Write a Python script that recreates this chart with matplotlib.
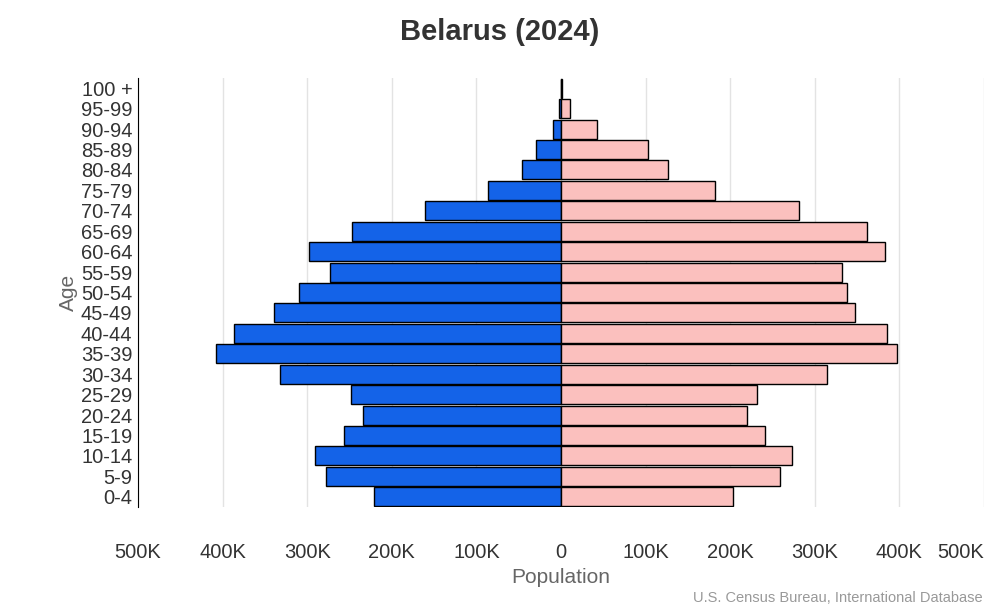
import matplotlib
matplotlib.use("Agg")
import matplotlib.pyplot as plt
from matplotlib.ticker import FuncFormatter

plt.rcParams["font.family"] = ["Liberation Sans", "DejaVu Sans"]

ages = ["0-4", "5-9", "10-14", "15-19", "20-24", "25-29", "30-34", "35-39", "40-44",
        "45-49", "50-54", "55-59", "60-64", "65-69", "70-74", "75-79", "80-84",
        "85-89", "90-94", "95-99", "100 +"]
male = [221, 278, 291, 256, 234, 248, 332, 408, 386, 339, 310, 273, 298, 247,
        161, 86, 46, 30, 9, 2, 0.5]
female = [203, 259, 273, 241, 220, 232, 314, 397, 385, 348, 338, 332, 383, 362,
          281, 182, 126, 103, 43, 11, 1.5]
xticks = [-500, -400, -300, -200, -100, 0, 100, 200, 300, 400, 500]

fig = plt.figure(figsize=(10, 6.12), dpi=100)
ax = fig.add_axes([0.138, 1 - 507 / 612, 0.846, (507 - 78) / 612])

y = range(len(ages))
ax.barh(y, [-v for v in male], height=0.93, color="#1463e8", edgecolor="black", lw=1, zorder=3)
ax.barh(y, female, height=0.93, color="#fbc0be", edgecolor="black", lw=1, zorder=3)

ax.set_xlim(-500, 500)
ax.set_ylim(-0.5, len(ages) - 0.5)
ax.set_yticks(list(y))
ax.set_yticklabels(ages)
ax.set_xticks(xticks)
ax.xaxis.set_major_formatter(FuncFormatter(lambda v, p: "0" if v == 0 else f"{abs(int(v))}K"))
ax.tick_params(axis="x", length=0, pad=26, labelsize=14.5, colors="#333333")
ax.tick_params(axis="y", length=0, pad=4, labelsize=14.5, colors="#333333")
# last label sits inside the figure, as in the reference
ax.get_xticklabels()[-1].set_horizontalalignment("right")
ax.get_xticklabels()[-1].set_x(ax.get_xticklabels()[-1].get_position()[0])
ax.grid(axis="x", color="#e3e3e3", lw=1, zorder=0)
for s in ["top", "right", "bottom"]:
    ax.spines[s].set_visible(False)
ax.spines["left"].set_color("black")

ax.set_xlabel("Population", fontsize=15, color="#666666", labelpad=4)
ax.set_ylabel("Age", fontsize=15, color="#666666", labelpad=2)
fig.text(0.5, 1 - 32 / 612, "Belarus (2024)", ha="center", va="center",
         fontsize=21, fontweight="bold", color="#333333")
fig.text(0.983, 1 - 598 / 612, "U.S. Census Bureau, International Database",
         ha="right", va="center", fontsize=10.5, color="#999999")

fig.savefig("out.png", dpi=100)
